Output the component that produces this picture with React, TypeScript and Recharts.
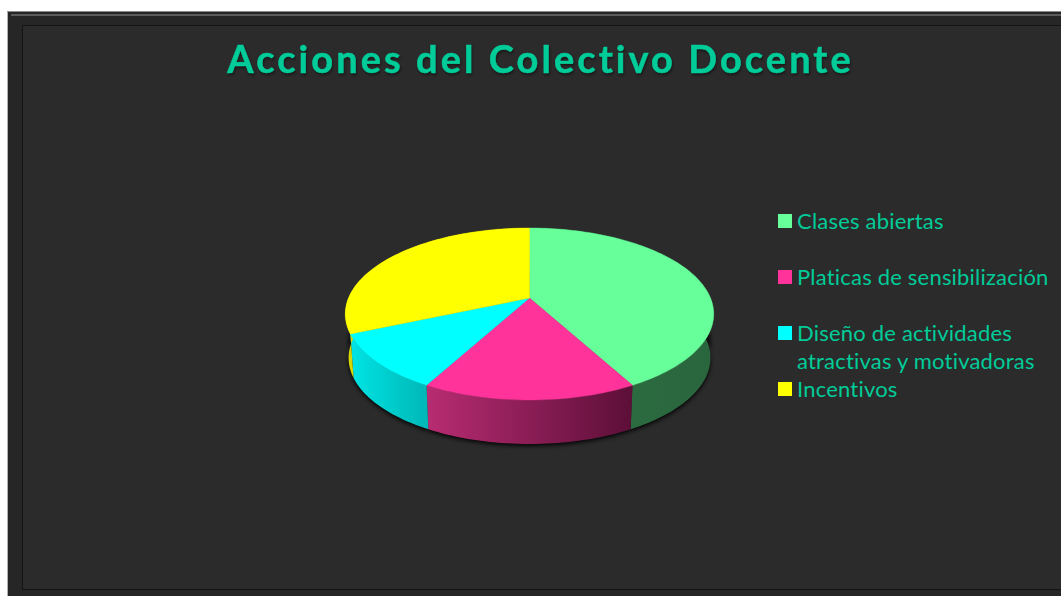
import React from 'react';
import { PieChart, Pie, Legend } from 'recharts';

const categories = ['Clases abiertas', 'Platicas de sensibilización', 'Diseño de actividades atractivas y motivadoras', 'Incentivos'];
const values = [8, 3, 2, 6];
const colors = ['#66ff99', '#ff3399', '#00ffff', '#ffff00'];
const wallLeft = ['#2d6e42', '#b82c72', '#00e4e4', '#d8d800'];
const wallRight = ['#2a663d', '#5c0f38', '#00b8b8', '#c4c400'];
const TITLE = 'Acciones del Colectivo Docente';
const TEXT = '#00cc99';

const table = categories.map((name, i) => ({ name, value: values[i], fill: colors[i], idx: i }));

const RX = 1.81, RY = 0.83, K = 0.186, DEPTH = 44, TAPER = 0.982;

function project(cx: number, cy: number, r: number, angle: number) {
  const t = ((90 - angle) * Math.PI) / 180;
  const x = Math.sin(t), y = -Math.cos(t);
  const w = 1 - K * y;
  return [cx + (r * RX * x) / w, cy + (r * RY * y) / w];
}
function arc(p: any) {
  const pts: number[][] = [];
  const n = Math.max(2, Math.ceil(Math.abs(p.startAngle - p.endAngle) / 1.5));
  for (let i = 0; i <= n; i++) {
    pts.push(project(p.cx, p.cy, p.outerRadius, p.startAngle + ((p.endAngle - p.startAngle) * i) / n));
  }
  return pts;
}
const toPath = (pts: number[][]) => 'M' + pts.map((q) => q[0].toFixed(2) + ' ' + q[1].toFixed(2)).join('L') + 'Z';

function wallPath(p: any) {
  const top = arc(p);
  const bottom = top.map((q) => [p.cx + (q[0] - p.cx) * TAPER, q[1] + DEPTH]).reverse();
  return { top, path: toPath([...top, ...bottom]) };
}

function TopFace(p: any) {
  return <path d={toPath([[p.cx, p.cy], ...arc(p)])} fill={p.fill} stroke={p.fill} strokeWidth={0.4} />;
}
function Wall(p: any) {
  const { top, path } = wallPath(p);
  const xs = top.map((q) => q[0]);
  const i = p.payload?.idx ?? p.idx ?? 0;
  const id = 'wall' + i;
  return (
    <g>
      <defs>
        <linearGradient id={id} gradientUnits="userSpaceOnUse" x1={Math.min(...xs)} x2={Math.max(...xs)} y1={0} y2={0}>
          <stop offset="0" stopColor={wallLeft[i]} />
          <stop offset="1" stopColor={wallRight[i]} />
        </linearGradient>
      </defs>
      <path d={path} fill={`url(#${id})`} />
    </g>
  );
}
function Shadow(p: any) {
  const top = arc(p);
  const upper = top.map((q) => [p.cx + (q[0] - p.cx) * TAPER, q[1] + DEPTH - 14]);
  const lower = top.map((q) => [p.cx + (q[0] - p.cx) * TAPER, q[1] + DEPTH + 2]).reverse();
  return <path d={toPath([...upper, ...lower])} fill="#000" opacity={0.9} style={{ filter: 'blur(2px)' }} />;
}

function LegendBox({ payload }: any) {
  const seen = new Set<string>();
  const rows = (payload || []).filter((e: any) => {
    if (seen.has(e.value)) return false;
    seen.add(e.value);
    return true;
  });
  return (
    <div style={{ fontFamily: 'Lato, sans-serif', fontSize: 22, lineHeight: '28px', letterSpacing: 0.2, fontVariantLigatures: 'none', color: TEXT }}>
      {rows.map((e: any) => (
        <div key={e.value} style={{ position: 'relative', height: 56, paddingLeft: 19, width: 264 }}>
          <span style={{ position: 'absolute', left: 0, top: 7, width: 14, height: 14, background: e.color }} />
          {e.value}
        </div>
      ))}
    </div>
  );
}

export default function App() {
  const pieProps = {
    data: table, dataKey: 'value', nameKey: 'name', cx: 529.5, cy: 298, outerRadius: 100,
    startAngle: 90, endAngle: -270, paddingAngle: 0, isAnimationActive: false, stroke: 'none',
  };
  return (
    <div style={{ position: 'absolute', left: 0, top: 0, width: 1061, height: 596, overflow: 'hidden', background: '#fff' }}>
      <div style={{ position: 'absolute', left: 7, top: 11, width: 1054, height: 585, background: '#262626', borderTop: '1px solid #8c8c8c', borderLeft: '1px solid #b0b0b0', boxSizing: 'border-box' }} />
      <div style={{ position: 'absolute', left: 11, top: 14, width: 1050, height: 2, background: '#5c5c5c' }} />
      <div style={{ position: 'absolute', left: 22, top: 25, width: 1039, height: 565, background: '#2b2b2b', borderTop: '1px solid #141414', borderLeft: '1px solid #141414', borderBottom: '1px solid #141414', boxSizing: 'border-box' }} />
      <div style={{ position: 'absolute', left: 0, top: 0 }}>
        <PieChart width={1061} height={596} margin={{ top: 0, right: 0, bottom: 0, left: 0 }}>
          <text x={540.5} y={73} textAnchor="middle" fill={TEXT} stroke={TEXT} strokeWidth={0.5} fontFamily="Lato, sans-serif" fontWeight={700} fontSize={38} letterSpacing={3.05} style={{ filter: 'drop-shadow(1px 2px 1px rgba(0,0,0,0.4))', fontVariantLigatures: 'none' }}>{TITLE}</text>
          <Pie {...pieProps} legendType="none" shape={Shadow} />
          <Pie {...pieProps} legendType="none" shape={Wall} />
          <Pie {...pieProps} shape={TopFace} />
          <Legend content={LegendBox as any} itemSorter={null as any} layout="vertical" wrapperStyle={{ position: 'absolute', left: 778, top: 207, width: 283, height: 224, bottom: 'auto', right: 'auto' }} />
        </PieChart>
      </div>
    </div>
  );
}
